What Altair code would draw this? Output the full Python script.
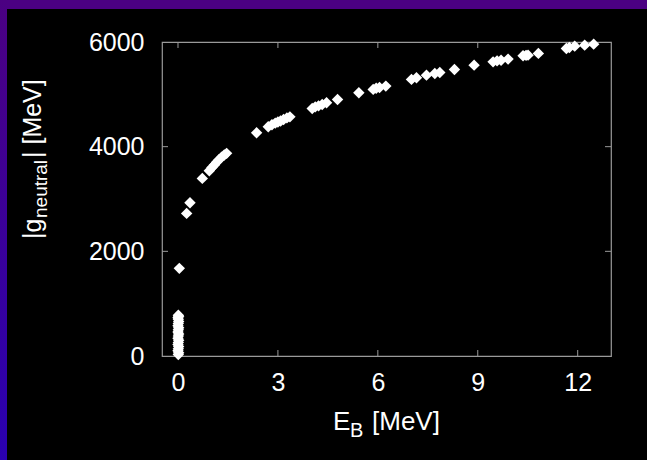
import altair as alt
import pandas as pd

# ---- data ----
e_b = [0.01, 0.02, 0.00, 0.01, 0.02, 0.00, 0.01, 0.02, 0.00, 0.01, 0.02, 0.00,
       0.01, 0.02, 0.00, 0.01, 0.02, 0.01, 0.00, 0.02, 0.01,
       0.04, 0.26, 0.36, 0.73,
       0.94, 1.02, 1.09, 1.16, 1.23, 1.31, 1.39, 1.46,
       2.36,
       2.71, 2.82, 2.92, 3.00, 3.08, 3.17, 3.27, 3.36,
       4.03, 4.12, 4.22, 4.33, 4.46, 4.79, 5.43,
       5.86, 5.95, 6.05, 6.24,
       7.01, 7.16, 7.46, 7.71, 7.86, 8.30, 8.89,
       9.46, 9.58, 9.70, 9.91,
       10.36, 10.45, 10.51, 10.82,
       11.66, 11.75, 11.91, 12.21, 12.48]
g_neutral = [30, 60, 100, 140, 180, 220, 260, 300, 340, 380, 420, 460,
             500, 540, 580, 620, 660, 700, 730, 760, 780,
             1675, 2725, 2928, 3394,
             3540, 3600, 3650, 3700, 3750, 3800, 3840, 3872,
             4265,
             4380, 4420, 4450, 4470, 4490, 4520, 4550, 4570,
             4730, 4760, 4780, 4805, 4838, 4900, 5030,
             5094, 5115, 5130, 5157,
             5285, 5316, 5367, 5399, 5418, 5475, 5558,
             5621, 5640, 5650, 5673,
             5736, 5745, 5749, 5782,
             5877, 5895, 5921, 5940, 5959]

x_ticks = [0, 3, 6, 9, 12]
y_ticks = [0, 2000, 4000, 6000]
y_inner_ticks = [2000, 4000]

W, H = 449, 314
FONT = "Liberation Sans"
FRAME = "#9a9a9a"

pts = pd.DataFrame({"E": e_b, "g": g_neutral})
xt = pd.DataFrame({"E": x_ticks})
yt = pd.DataFrame({"g": y_inner_ticks})
one = pd.DataFrame({"k": [0]})

xscale = alt.Scale(domain=[-0.48, 13.0], nice=False, zero=False)
yscale = alt.Scale(domain=[0, 6000], nice=False)

xaxis = alt.Axis(values=x_ticks, title=None, ticks=False, domain=False, grid=False, format="d",
                 labelColor="white", labelFont=FONT, labelFontSize=25, labelPadding=14)
yaxis = alt.Axis(values=y_ticks, title=None, ticks=False, domain=False, grid=False, format="d",
                 labelColor="white", labelFont=FONT, labelFontSize=25, labelPadding=18)

X = alt.X("E:Q", scale=xscale, axis=xaxis)
Y = alt.Y("g:Q", scale=yscale, axis=yaxis)

points = alt.Chart(pts).mark_point(
    shape="diamond", filled=True, size=130, color="white", opacity=1
).encode(x=X, y=Y)

# inward ticks on all four sides
tick_bottom = alt.Chart(xt).mark_rule(color=FRAME, strokeWidth=1).encode(
    x=X, y=alt.value(H), y2=alt.value(H - 6))
tick_top = alt.Chart(xt).mark_rule(color=FRAME, strokeWidth=1).encode(
    x=X, y=alt.value(0), y2=alt.value(6))
tick_left = alt.Chart(yt).mark_rule(color=FRAME, strokeWidth=1).encode(
    y=Y, x=alt.value(0), x2=alt.value(6))
tick_right = alt.Chart(yt).mark_rule(color=FRAME, strokeWidth=1).encode(
    y=Y, x=alt.value(W), x2=alt.value(W - 6))

# decorative border strips (top and left)
top_strip = alt.Chart(one).mark_rect(color="#4b0082").encode(
    x=alt.value(-162), x2=alt.value(485), y=alt.value(-42), y2=alt.value(-33))
left_strip = alt.Chart(one).mark_rect(
    color=alt.LinearGradient(
        gradient="linear",
        stops=[alt.GradientStop(color="#4b0082", offset=0),
               alt.GradientStop(color="#2a00b0", offset=1)],
        x1=0, x2=0, y1=0, y2=1)
).encode(x=alt.value(-162), x2=alt.value(-155), y=alt.value(-42), y2=alt.value(418))

# axis titles with subscripts
def txt(s, x, y, size, angle=0):
    kw = dict(text=s, color="white", font=FONT, fontSize=size, align="left",
              baseline="alphabetic")
    if angle:
        kw["angle"] = angle
    return alt.Chart(one).mark_text(**kw).encode(x=alt.value(x), y=alt.value(y))

xt_E = txt("E", 171, 388, 26)
xt_B = txt("B", 188, 395, 20)
xt_rest = txt("[MeV]", 210, 388, 26)

yt_1 = txt("|g", -121, 197, 25, 270)
yt_2 = txt("neutral", -115, 176, 19, 270)
yt_3 = txt("| [MeV]", -121, 116, 25, 270)

chart = alt.layer(
    top_strip, left_strip,
    tick_bottom, tick_top, tick_left, tick_right,
    points,
    xt_E, xt_B, xt_rest, yt_1, yt_2, yt_3,
).properties(
    width=W, height=H,
    autosize=alt.AutoSizeParams(type="none"),
    padding={"left": 162, "top": 42, "right": 36, "bottom": 104},
    background="black",
).configure_view(stroke=FRAME, strokeWidth=1.2)

chart.save("out.html", embed_options={"renderer": "svg", "actions": False})
